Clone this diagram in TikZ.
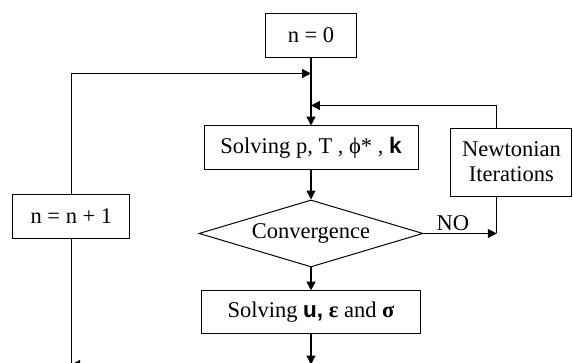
\documentclass[tikz,border=0pt]{standalone}
\usepackage{fontspec}
\setmainfont{Liberation Serif}
\newfontfamily\sansbf{Liberation Sans}
\usetikzlibrary{shapes.geometric, arrows.meta, positioning, calc}
\tikzset{
    procbox/.style={rectangle, draw=black, line width=0.7pt, minimum height=11mm, align=center, inner sep=1mm},
    decision/.style={diamond, aspect=3.34, draw=black, line width=0.7pt, minimum width=56mm, minimum height=16.75mm, inner sep=0pt, align=center},
    arrow/.style={-{Triangle[length=2.2mm, width=2.2mm]}, line width=1pt, black},
    line/.style={line width=1pt, black},
}
\begin{document}
\begin{tikzpicture}[
    node distance=5mm,
    font=\fontsize{16}{18}\selectfont,
    >=Triangle
]
\useasboundingbox (-7.775,0.875) rectangle (6.55,-8.2);

% Main column
\node[procbox, minimum width=22.75mm] (init) {n = 0};
\node[procbox, minimum width=53.5mm, below=17mm of init] (solvep) {Solving p, T , ϕ* , {\sansbf\bfseries k}};
\node[decision, below=7.25mm of solvep] (conv) {Convergence};
\node[procbox, minimum width=54.75mm, minimum height=10.75mm, below=5.75mm of conv] (solveu) {Solving {\sansbf\bfseries u,} \textbf{ε} and \textbf{σ}};

% Side boxes
\node[procbox, minimum width=30.25mm, minimum height=17mm] (newton) at (5.01,-3.175) {Newtonian\\Iterations};
\node[procbox, minimum width=29.25mm] (incr) at (-5.99,-4.525) {n = n + 1};

% Junctions on the main column and taps on the Newtonian box
\coordinate[below=4mm of init.south] (joinl);
\coordinate[below=12mm of init.south] (joinr);
\coordinate[below=7.5mm of solveu.south] (joinb);
\coordinate (ntop) at ($(newton.north west)!0.38!(newton.north east)$);
\coordinate (nbot) at ($(newton.south west)!0.38!(newton.south east)$);

% Arrows
\draw[arrow] (init) -- (solvep);
\draw[arrow] (solvep) -- (conv);
\draw[arrow] (conv) -- (solveu);
\draw[arrow] (solveu) -- (joinb);
\draw[arrow] (joinb) -- (joinb -| incr);
\draw[line] (joinb -| incr) -- (incr);
\draw[arrow] (incr) |- (joinl);
\draw[arrow] (conv) -- (conv -| nbot) node[pos=0.4, above, inner sep=1.5pt] {NO};
\draw[line] (nbot) -- (conv -| nbot);
\draw[arrow] (ntop) |- (joinr);

\end{tikzpicture}
\end{document}
